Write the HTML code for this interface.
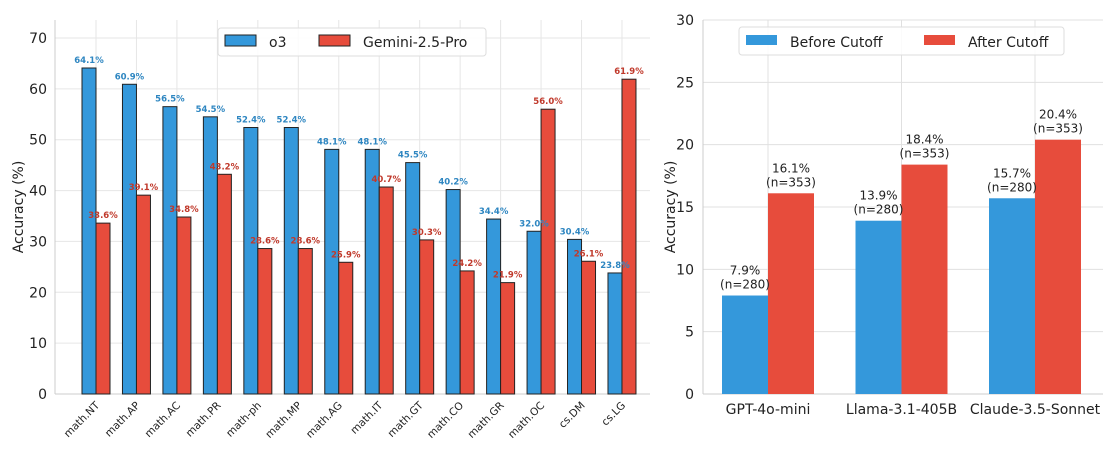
<!DOCTYPE html>
<html><head><meta charset="utf-8"><style>
body{margin:0;background:#fff;}
svg text{font-family:"DejaVu Sans","Liberation Sans",sans-serif;}
</style></head><body>
<svg id="c" width="1111" height="447" xmlns="http://www.w3.org/2000/svg"></svg>
<script>
const cats=["math.NT","math.AP","math.AC","math.PR","math-ph","math.MP","math.AG","math.IT","math.GT","math.CO","math.GR","math.OC","cs.DM","cs.LG"];
const o3Vals=[64.1,60.9,56.5,54.5,52.4,52.4,48.1,48.1,45.5,40.2,34.4,32.0,30.4,23.8];
const gemVals=[33.6,39.1,34.8,43.2,28.6,28.6,25.9,40.7,30.3,24.2,21.9,56.0,26.1,61.9];
const leftTicks=[0,10,20,30,40,50,60,70];
const models=["GPT-4o-mini","Llama-3.1-405B","Claude-3.5-Sonnet"];
const beforeVals=[7.9,13.9,15.7];
const afterVals=[16.1,18.4,20.4];
const beforeN=[280,280,280];
const afterN=[353,353,353];
const rightTicks=[0,5,10,15,20,25,30];

const svg=document.getElementById('c');
const NS="http://www.w3.org/2000/svg";
function mk(tag,attrs,parent){const e=document.createElementNS(NS,tag);for(const k in attrs)e.setAttribute(k,attrs[k]);(parent||svg).appendChild(e);return e;}
const BLUE="#3498db",RED="#e74c3c";

// LEFT
const L={x0:55,x1:650,y0:394,ymax:70,ytop:38};
const ly=v=>L.y0-(v/L.ymax)*(L.y0-L.ytop);
const lx=i=>96+i*40.46;
const gl=mk('g',{});
leftTicks.forEach(t=>{
 const l=mk('line',{x1:L.x0,x2:L.x1,y1:ly(t),y2:ly(t),stroke:'#e6e6e6','stroke-width':1},gl);
 
 const tx=mk('text',{x:L.x0-8,y:ly(t)+5,'text-anchor':'end','font-size':14,fill:'#222'},gl);tx.textContent=t;
 
});
cats.forEach((c,i)=>{
 const l=mk('line',{x1:lx(i),x2:lx(i),y1:20,y2:L.y0,stroke:'#e6e6e6'},gl);
 
});
mk('line',{x1:L.x0,x2:L.x0,y1:20,y2:L.y0,stroke:'#ccc'},gl);
mk('line',{x1:L.x0,x2:L.x1,y1:L.y0,y2:L.y0,stroke:'#ccc'},gl);
cats.forEach((c,i)=>{
 const cx=lx(i);
 const b=mk('rect',{x:cx-14,y:ly(o3Vals[i]),width:14,height:L.y0-ly(o3Vals[i]),fill:BLUE,stroke:'#222','stroke-width':1},gl);
 
 const r=mk('rect',{x:cx,y:ly(gemVals[i]),width:14,height:L.y0-ly(gemVals[i]),fill:RED,stroke:'#222','stroke-width':1},gl);
 
 const t1=mk('text',{x:cx-7,y:ly(o3Vals[i])-5,'text-anchor':'middle','font-size':8.5,'font-weight':'bold',fill:'#2e86c1'},gl);t1.textContent=o3Vals[i].toFixed(1)+'%';
 
 const t2=mk('text',{x:cx+7,y:ly(gemVals[i])-5,'text-anchor':'middle','font-size':8.5,'font-weight':'bold',fill:'#c0392b'},gl);t2.textContent=gemVals[i].toFixed(1)+'%';
 
 const xl=mk('text',{x:cx+4,y:L.y0+12,'text-anchor':'end','font-size':10.5,fill:'#222',transform:`rotate(-45 ${cx+4} ${L.y0+12})`},gl);xl.textContent=c;
 
});
const yl=mk('text',{x:23,y:207,'text-anchor':'middle','font-size':14,fill:'#222',transform:'rotate(-90 23 207)'},gl);yl.textContent='Accuracy (%)';

const lg=mk('g',{},gl);
mk('rect',{x:218,y:28,width:268,height:28,fill:'#fff','fill-opacity':0.85,stroke:'#ddd',rx:3},lg);
mk('rect',{x:225,y:35,width:31,height:11,fill:BLUE,stroke:'#222'},lg);
let t=mk('text',{x:269,y:47,'font-size':14,fill:'#222'},lg);t.textContent='o3';
mk('rect',{x:319,y:35,width:31,height:11,fill:RED,stroke:'#222'},lg);
t=mk('text',{x:363,y:47,'font-size':14,fill:'#222'},lg);t.textContent='Gemini-2.5-Pro';

// RIGHT
const R={x0:703,x1:1103,y0:394,ymax:30,ytop:20};
const ry=v=>R.y0-(v/R.ymax)*(R.y0-R.ytop);
const rx=i=>768+i*133.5;
const gr=mk('g',{});
rightTicks.forEach(v=>{
 const l=mk('line',{x1:R.x0,x2:R.x1,y1:ry(v),y2:ry(v),stroke:'#e0e0e0'},gr);
 
 const tx=mk('text',{x:R.x0-9,y:ry(v)+5,'text-anchor':'end','font-size':14,fill:'#222'},gr);tx.textContent=v;
 
});
models.forEach((m,i)=>{
 const l=mk('line',{x1:rx(i),x2:rx(i),y1:R.ytop,y2:R.y0,stroke:'#e0e0e0'},gr);
 
});
mk('line',{x1:R.x0,x2:R.x0,y1:R.ytop,y2:R.y0,stroke:'#ccc'},gr);
mk('line',{x1:R.x0,x2:R.x1,y1:R.y0,y2:R.y0,stroke:'#ccc'},gr);
models.forEach((m,i)=>{
 const cx=rx(i);
 const b=mk('rect',{x:cx-46,y:ry(beforeVals[i]),width:46,height:R.y0-ry(beforeVals[i]),fill:BLUE},gr);
 
 const a=mk('rect',{x:cx,y:ry(afterVals[i]),width:46,height:R.y0-ry(afterVals[i]),fill:RED},gr);
 
 [[cx-23,beforeVals[i],beforeN[i],'before'],[cx+23,afterVals[i],afterN[i],'after']].forEach(([x,v,n,k])=>{
  const y=ry(v);
  const t1=mk('text',{x:x,y:y-21,'text-anchor':'middle','font-size':12,fill:'#222'},gr);t1.textContent=v.toFixed(1)+'%';
  
  const t2=mk('text',{x:x,y:y-7,'text-anchor':'middle','font-size':12,fill:'#222'},gr);t2.textContent='(n='+n+')';
  
 });
 const xl=mk('text',{x:cx,y:R.y0+20,'text-anchor':'middle','font-size':14,fill:'#222'},gr);xl.textContent=m;
 
});
const yr=mk('text',{x:675,y:207,'text-anchor':'middle','font-size':14,fill:'#222',transform:'rotate(-90 675 207)'},gr);yr.textContent='Accuracy (%)';

const rg=mk('g',{},gr);
mk('rect',{x:739,y:27,width:325,height:28,fill:'#fff','fill-opacity':0.85,stroke:'#ddd',rx:3},rg);
mk('rect',{x:746,y:35,width:31,height:10,fill:BLUE},rg);
t=mk('text',{x:790,y:47,'font-size':14,fill:'#222'},rg);t.textContent='Before Cutoff';
mk('rect',{x:924,y:35,width:31,height:10,fill:RED},rg);
t=mk('text',{x:968,y:47,'font-size':14,fill:'#222'},rg);t.textContent='After Cutoff';
</script>
</body></html>
